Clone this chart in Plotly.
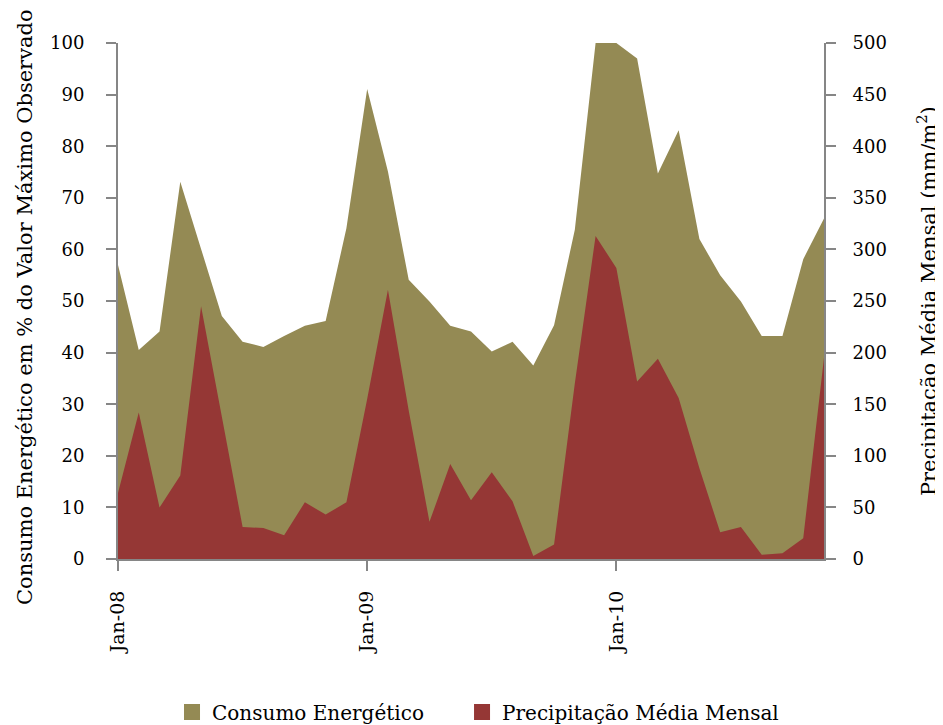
import plotly.graph_objects as go

month_names = ["Jan", "Fev", "Mar", "Abr", "Mai", "Jun", "Jul", "Ago", "Set", "Out", "Nov", "Dez"]
months = [f"{m}-{y:02d}" for y in (8, 9, 10) for m in month_names][:35]

consumo = [57.0, 40.5, 44.1, 73.1, 60.1, 47.1, 42.1, 41.1, 43.2, 45.2, 46.1, 64.1,
           91.1, 75.1, 54.1, 49.9, 45.2, 44.1, 40.2, 42.1, 37.5, 45.3, 63.8, 100.0,
           100.0, 97.0, 74.7, 83.1, 62.0, 55.0, 49.9, 43.2, 43.2, 58.1, 66.0]

precipitacao = [64, 142, 50, 81, 245, 138, 31, 30, 23, 55, 43, 55,
                155, 261, 144, 36, 92, 57, 84, 56, 3, 14, 170, 313,
                282, 172, 194, 156, 88, 26, 31, 4, 5.5, 20, 195]

x_ticks = ["Jan-08", "Jan-09", "Jan-10"]
series_names = ["Consumo Energético", "Precipitação Média Mensal"]
y_title_left = "Consumo Energético em % do Valor Máximo Observado"
y_title_right = "Precipitação Média Mensal (mm/m<sup>2</sup>)"

OLIVE = "#948A54"
RED = "#953735"
AXIS = "#868686"
FONT = "DejaVu Serif"

fig = go.Figure()
fig.add_trace(go.Scatter(
    x=months, y=consumo, name=series_names[0], mode="lines",
    line=dict(width=0, color=OLIVE), fill="tozeroy", fillcolor=OLIVE,
    yaxis="y", showlegend=False))
fig.add_trace(go.Scatter(
    x=months, y=precipitacao, name=series_names[1], mode="lines",
    line=dict(width=0, color=RED), fill="tozeroy", fillcolor=RED,
    yaxis="y2", showlegend=False))
# legend swatches (square markers like the reference), one legend box each
for name, col, leg in zip(series_names, [OLIVE, RED], ["legend", "legend2"]):
    fig.add_trace(go.Scatter(x=[None], y=[None], name=name, mode="markers",
                             marker=dict(symbol="square", size=20, color=col, line=dict(width=0)),
                             showlegend=True, legend=leg))

legend_style = dict(orientation="h", xanchor="left", y=-0.2965, yanchor="middle",
                    font=dict(size=20), itemwidth=30, itemsizing="trace")

fig.update_layout(
    width=935, height=717,
    margin=dict(l=110, r=119, t=35, b=166, autoexpand=False),
    plot_bgcolor="white", paper_bgcolor="white",
    font=dict(family=FONT, size=18, color="black"),
    showlegend=True,
    legend=dict(x=0.0765, **legend_style),
    legend2=dict(x=0.4873, **legend_style),
    xaxis=dict(type="category", range=[0, len(months) - 1],
               tickmode="array", tickvals=x_ticks, ticktext=x_ticks,
               tickangle=-90, ticks="outside", ticklen=10, tickwidth=2, tickcolor=AXIS,
               showline=True, linecolor=AXIS, linewidth=2, showgrid=False, zeroline=False,
               tickfont=dict(size=19), ticklabelstandoff=12, automargin=False),
    yaxis=dict(range=[0, 100], dtick=10, ticks="outside", ticklen=10, tickwidth=2,
               tickcolor=AXIS, showline=True, linecolor=AXIS, linewidth=2,
               showgrid=False, zeroline=False, tickfont=dict(size=18),
               ticklabelstandoff=18, automargin=False),
    yaxis2=dict(range=[0, 500], dtick=50, overlaying="y", side="right",
                ticks="outside", ticklen=10, tickwidth=2, tickcolor=AXIS,
                showline=True, linecolor=AXIS, linewidth=2, showgrid=False,
                zeroline=False, tickfont=dict(size=18), ticklabelstandoff=13,
                automargin=False),
    annotations=[
        dict(text=y_title_left, xref="paper", yref="paper", x=-0.132, y=0.488,
             xanchor="center", yanchor="middle", textangle=-90, showarrow=False,
             font=dict(size=21)),
        dict(text=y_title_right, xref="paper", yref="paper", x=1.146, y=0.5,
             xanchor="center", yanchor="middle", textangle=-90, showarrow=False,
             font=dict(size=21)),
    ],
)

fig.write_html("out.html")
